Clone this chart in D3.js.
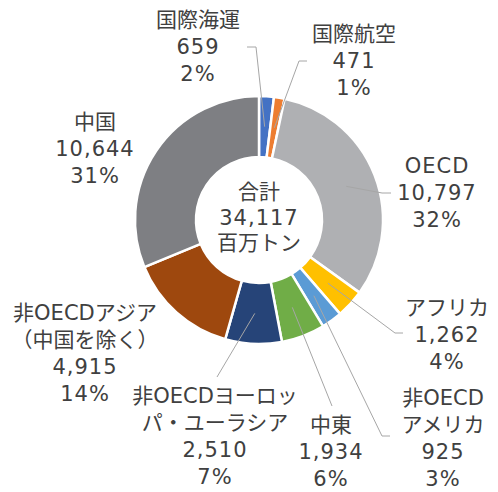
<!DOCTYPE html>
<html><head><meta charset="utf-8">
<script src="https://cdn.jsdelivr.net/npm/d3@7"></script>
<style>
html,body{margin:0;padding:0;background:#fff;}
text{font-family:"DejaVu Sans","Noto Sans CJK JP",sans-serif;fill:#404040;}
</style></head>
<body><svg id="c" width="498" height="492"></svg>
<script>
// ---- data ----
const categories = ["国際海運","国際航空","OECD","アフリカ","非OECDアメリカ","中東","非OECDヨーロッパ・ユーラシア","非OECDアジア（中国を除く）","中国"];
const values = [659,471,10797,1262,925,1934,2510,4915,10644];
const percents = ["2%","1%","32%","4%","3%","6%","7%","14%","31%"];
const labelNameLines = [["国際海運"],["国際航空"],["OECD"],["アフリカ"],["非OECD","アメリカ"],["中東"],["非OECDヨーロッ","パ・ユーラシア"],["非OECDアジア","（中国を除く）"],["中国"]];
const colors = ["#4472C4","#ED7D31","#AFB0B3","#FFC000","#5B9BD5","#70AD47","#264478","#9E480E","#7E7F83"];
const totalLines = ["合計","34,117","百万トン"];

// ---- layout ----
const cx = 259, cy = 220, rIn = 63, rOut = 124;
const labelPos = [[198,20],[354,34],[437,166],[447,308],[443,398],[331,425],[215,396],[85,313],[95,122]];
const lineGap = 27;
// leader line start points (label side); null = no line
const leaderStart = [[[247,47],[256,47]],[[307,61],[299,61]],[[391,193],[382,193]],[[403,333],[395,333]],[[390,436],[382,436]],[[332,406]],[[217,377]],null,null];

const svg = d3.select("#c");
const g = svg.append("g").attr("transform",`translate(${cx},${cy})`);
const fmt = d3.format(",");
const pie = d3.pie().sort(null).value(d=>d)(values);
const arc = d3.arc().innerRadius(rIn).outerRadius(rOut);
const mid = d3.arc().innerRadius((rIn+rOut)/2).outerRadius((rIn+rOut)/2);

g.selectAll("path.s").data(pie).join("path").attr("class","s")
  .attr("d",arc).attr("fill",(d,i)=>colors[i])
  .attr("stroke","#fff").attr("stroke-width",2.5).attr("stroke-linejoin","miter");

// leader lines
pie.forEach((d,i)=>{
  const st = leaderStart[i];
  if(!st) return;
  const c = mid.centroid(d);
  const pts = st.map(p=>[p[0],p[1]]).concat([[c[0]+cx,c[1]+cy]]);
  svg.append("polyline").attr("points",pts.map(p=>p.join(",")).join(" "))
    .attr("fill","none").attr("stroke","#A6A6A6").attr("stroke-width",1);
});

const latin = s => /^[0-9A-Z,%]+$/.test(s);
function addLine(t, x, y, l){
  t.append("tspan").attr("x",x).attr("y",y)
    .attr("dominant-baseline","central")
    .attr("letter-spacing", latin(l) ? "1px" : null)
    .text(l);
}

// labels
categories.forEach((c,i)=>{
  const lines = labelNameLines[i].concat([fmt(values[i]), percents[i]]);
  const t = svg.append("text").attr("text-anchor","middle").attr("font-size",21);
  lines.forEach((l,j)=> addLine(t, labelPos[i][0], labelPos[i][1]+j*lineGap, l));
});

// center total
const tc = svg.append("text").attr("text-anchor","middle").attr("font-size",21);
totalLines.forEach((l,j)=> addLine(tc, cx, 192+j*25.5, l));
</script></body></html>
